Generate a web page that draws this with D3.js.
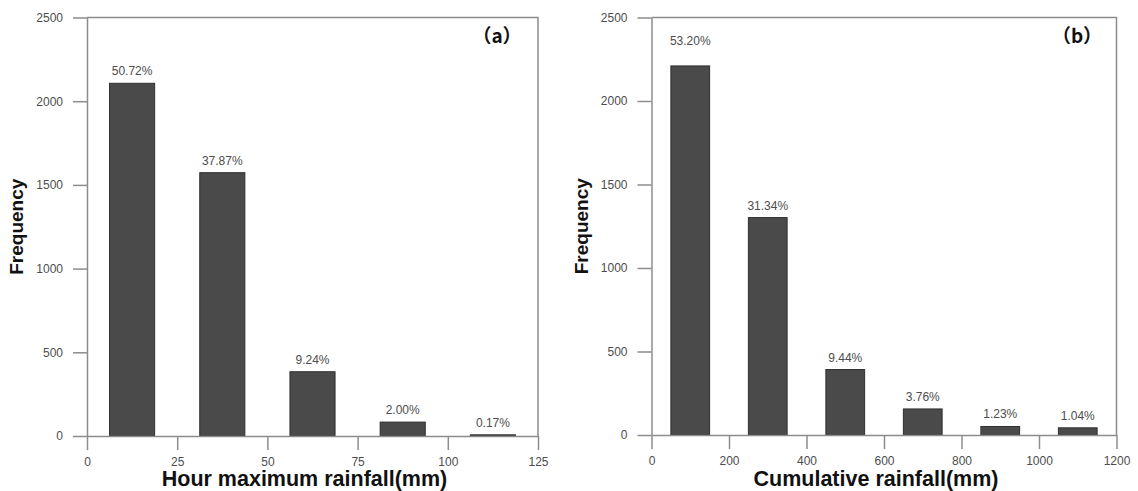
<!DOCTYPE html>
<html>
<head>
<meta charset="utf-8">
<script src="https://cdn.jsdelivr.net/npm/d3@7"></script>
<style>
  body { margin: 0; background: #fff; }
  svg { display: block; font-family: "Liberation Sans", Arial, sans-serif; }
</style>
</head>
<body>
<svg id="chart" width="1138" height="491"></svg>
<script>
// (a) hourly maximum rainfall: bin centres (mm), event counts, share labels
const hourBins = [12.5, 37.5, 62.5, 87.5, 112.5];
const hourCounts = [2107, 1573, 384, 83, 7];
const hourPercents = ["50.72%", "37.87%", "9.24%", "2.00%", "0.17%"];
const hourTicks = [0, 25, 50, 75, 100, 125];

// (b) cumulative rainfall: bin centres (mm), event counts, share labels
const cumBins = [100, 300, 500, 700, 900, 1100];
const cumCounts = [2210, 1302, 392, 156, 51, 43];
const cumPercents = ["53.20%", "31.34%", "9.44%", "3.76%", "1.23%", "1.04%"];
const cumTicks = [0, 200, 400, 600, 800, 1000, 1200];

const freqTicks = [0, 500, 1000, 1500, 2000, 2500];

const svg = d3.select("#chart");
const AXIS = "#8c8c8c", TEXT = "#4d4d4d", BAR = "#4a4a4a";

function drawPanel(p) {
  const x = d3.scaleLinear().domain(p.xDomain).range([p.left, p.right]);
  const y = d3.scaleLinear().domain([0, 2500]).range([p.bottom, p.top]);
  const g = svg.append("g");

  // bars
  g.selectAll("rect.bar").data(p.bins).join("rect")
    .attr("class", "bar")
    .attr("x", (d) => x(d - p.binWidth / 2))
    .attr("width", (d) => x(d + p.binWidth / 2) - x(d - p.binWidth / 2))
    .attr("y", (d, i) => y(p.counts[i]))
    .attr("height", (d, i) => y(0) - y(p.counts[i]))
    .attr("fill", BAR)
    .attr("stroke", "#2f2f2f")
    .attr("stroke-width", 1);

  // percentage labels above bars
  g.selectAll("text.pct").data(p.bins).join("text")
    .attr("class", "pct")
    .attr("x", (d) => x(d))
    .attr("y", (d, i) => y(p.counts[i]) - (i === 0 ? p.firstGap : 8))
    .attr("text-anchor", "middle")
    .attr("font-size", 12)
    .attr("fill", TEXT)
    .text((d, i) => p.percents[i]);

  // left axis
  const yAxis = g.append("g")
    .attr("transform", `translate(${p.left},0)`)
    .call(d3.axisLeft(y).tickValues(freqTicks).tickSize(14).tickSizeOuter(0).tickPadding(10)
      .tickFormat(d3.format("d")));
  // bottom axis
  const xAxis = g.append("g")
    .attr("transform", `translate(0,${p.bottom})`)
    .call(d3.axisBottom(x).tickValues(p.ticks).tickSize(14).tickSizeOuter(0).tickPadding(7)
      .tickFormat(d3.format("d")));
  [yAxis, xAxis].forEach((a) => {
    a.selectAll("path, line").attr("stroke", AXIS).attr("stroke-width", 1.5);
    a.selectAll("text").attr("fill", TEXT).attr("font-size", 12)
      .attr("font-family", "'Liberation Sans', Arial, sans-serif");
  });

  // frame: top and right edges
  g.append("path")
    .attr("d", `M${p.left},${p.top}H${p.right}V${p.bottom}`)
    .attr("fill", "none").attr("stroke", AXIS).attr("stroke-width", 1.5);

  // axis titles
  g.append("text")
    .attr("x", (p.left + p.right) / 2 - 8)
    .attr("y", 486)
    .attr("text-anchor", "middle")
    .attr("font-size", 21.5).attr("font-weight", "bold").attr("fill", "#111")
    .text(p.xTitle);
  g.append("text")
    .attr("transform", `translate(${p.left - 64},${(p.top + p.bottom) / 2}) rotate(-90)`)
    .attr("text-anchor", "middle")
    .attr("font-size", 19).attr("font-weight", "bold").attr("fill", "#111")
    .text("Frequency");

  // panel tag
  g.append("text")
    .attr("x", p.tagX).attr("y", p.top + 25)
    .attr("text-anchor", "middle")
    .attr("font-family", "'Noto Sans CJK SC', sans-serif")
    .attr("font-size", 19).attr("font-weight", "bold").attr("fill", "#111")
    .text(p.tag);
}

drawPanel({
  left: 87, right: 538, top: 17.5, bottom: 436,
  xDomain: [0, 125], binWidth: 12.5,
  bins: hourBins, counts: hourCounts, percents: hourPercents, ticks: hourTicks,
  xTitle: "Hour maximum rainfall(mm)", tag: "（a）", tagX: 497, firstGap: 8
});

drawPanel({
  left: 651.5, right: 1116.5, top: 17.5, bottom: 435,
  xDomain: [0, 1200], binWidth: 100,
  bins: cumBins, counts: cumCounts, percents: cumPercents, ticks: cumTicks,
  xTitle: "Cumulative rainfall(mm)", tag: "（b）", tagX: 1077, firstGap: 21
});
</script>
</body>
</html>
